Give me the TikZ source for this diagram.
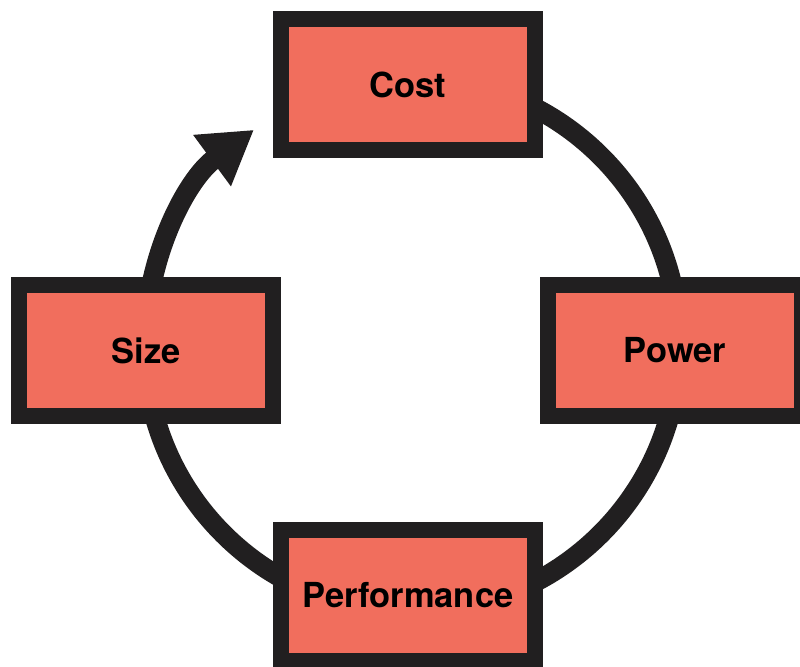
\documentclass[tikz,border=0pt]{standalone}
\usepackage{fontspec}
\setsansfont{TeX Gyre Heros}
\usetikzlibrary{arrows.meta,calc}
\definecolor{ink}{HTML}{211F20}
\definecolor{coral}{HTML}{F16E5D}
\tikzset{
	stage/.style={
			draw=ink, fill=coral, line width=0.16cm,
			minimum width=2.54cm, minimum height=1.31cm, inner sep=0pt,
			font=\sffamily\bfseries\fontsize{9.8pt}{11pt}\selectfont
		},
	ring/.style={draw=ink, line width=0.2cm}
}

\begin{document}
\begin{tikzpicture}[x=0.01cm, y=-0.01cm]
			\clip (0, 0) rectangle (800, 666);
			\coordinate (hub) at (412, 345);

			\draw[ring]	(hub) ++(270:267) arc[start angle=270, end angle=540, radius=267];
			\draw[ring, -{Triangle[length=0.52cm, width=0.6cm]}]	(hub) ++(180:267) arc[start angle=180, end angle=233.7, radius=267] coordinate (tip);

			\node[stage] (cost)	at (408, 84.5)	{Cost};
			\node[stage] (size)	at (146, 350.5)	{Size};
			\node[stage] (power)	at (675, 350.5)	{Power};
			\node[stage] (perf)	at (408, 595.5)	{Performance};
		\end{tikzpicture}
\end{document}
